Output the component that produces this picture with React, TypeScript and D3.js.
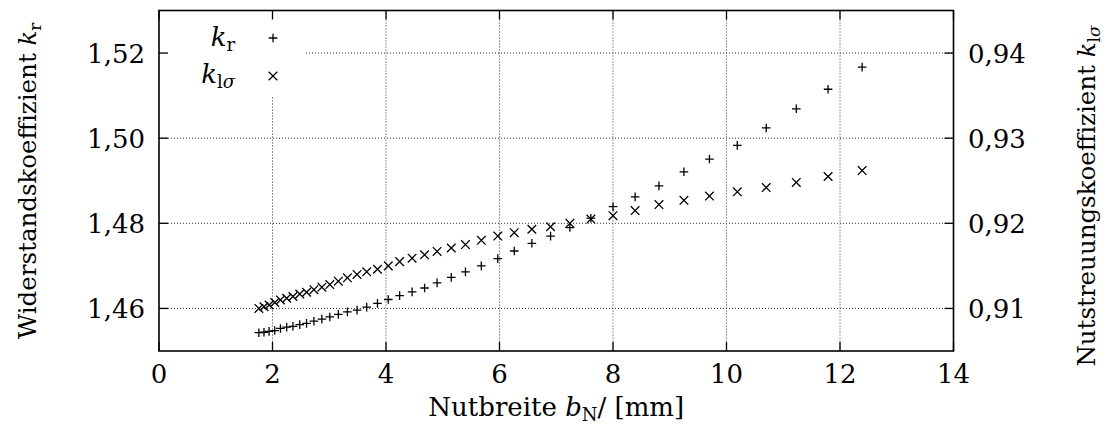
import React from 'react';
import * as d3 from 'd3';

// Nutbreite b_N in mm
const nutbreite = [
  1.76, 1.85, 1.94, 2.04, 2.14, 2.25, 2.36, 2.48, 2.60, 2.73, 2.87, 3.01, 3.16, 3.32, 3.49, 3.66, 3.85,
  4.04, 4.24, 4.46, 4.68, 4.90, 5.15, 5.40, 5.68, 5.97, 6.26, 6.57, 6.90, 7.24, 7.61, 8.00,
  8.39, 8.81, 9.25, 9.70, 10.19, 10.70, 11.23, 11.79, 12.39,
];
// Widerstandskoeffizient k_r (left axis)
const kr = [
  1.4543, 1.4544, 1.4546, 1.4548, 1.4553, 1.4556, 1.4558, 1.4562, 1.4565, 1.4570, 1.4575, 1.4580, 1.4586, 1.4592, 1.4596, 1.4603, 1.4612,
  1.4621, 1.4630, 1.4639, 1.4648, 1.4660, 1.4673, 1.4686, 1.4700, 1.4717, 1.4735, 1.4753, 1.4770, 1.4790, 1.4812, 1.4839,
  1.4862, 1.4888, 1.4921, 1.4951, 1.4983, 1.5024, 1.5069, 1.5115, 1.5167,
];
// Nutstreuungskoeffizient k_lsigma (right axis)
const klsigma = [
  0.9100, 0.9102, 0.9104, 0.9107, 0.9110, 0.9112, 0.9114, 0.9117, 0.9119, 0.9122, 0.9125, 0.9128, 0.9132, 0.9136, 0.9140, 0.9143, 0.9146,
  0.9150, 0.9155, 0.9159, 0.9163, 0.9167, 0.9171, 0.9175, 0.9180, 0.9185, 0.9189, 0.9193, 0.9196, 0.9200, 0.9205, 0.9209,
  0.9215, 0.9222, 0.9227, 0.9232, 0.9237, 0.9242, 0.9248, 0.9255, 0.9262,
];

const xTicks = [0, 2, 4, 6, 8, 10, 12, 14];
const xGrid = [2, 4, 6, 8, 10, 12];
const yLeftTicks = [1.46, 1.48, 1.5, 1.52];
const yRightTicks = [0.91, 0.92, 0.93, 0.94];

const W = 1107;
const H = 433;
const L = 159, R = 953.5, T = 10.5, B = 351;
const FONT = "'DejaVu Serif', 'Liberation Serif', 'Times New Roman', serif";
const FS = 26;
const FSY = 24.5;
const SUB = 18;

const fmt = (v: number, d: number) => v.toFixed(d).replace('.', ',');

export default function App() {
  const x = d3.scaleLinear().domain([0, 14]).range([L, R]);
  const yL = d3.scaleLinear().domain([1.45, 1.53]).range([B, T]);
  const yR = d3.scaleLinear().domain([0.905, 0.945]).range([B, T]);
  const tick = 9;
  const m = 4.3;
  const plus = (cx: number, cy: number, k: string) => (
    <path key={k} d={`M${cx - m},${cy}H${cx + m}M${cx},${cy - m}V${cy + m}`} stroke="#000" strokeWidth={1.3} fill="none" />
  );
  const cross = (cx: number, cy: number, k: string) => (
    <path key={k} d={`M${cx - m},${cy - m}L${cx + m},${cy + m}M${cx - m},${cy + m}L${cx + m},${cy - m}`} stroke="#000" strokeWidth={1.3} fill="none" />
  );
  const legX1 = 305, legY1 = 97;
  return (
    <svg width={W} height={H} style={{ position: 'absolute', left: 0, top: 0, background: '#fff', fontFamily: FONT }}>
      <rect x={0} y={0} width={W} height={H} fill="#fff" />
      {/* grid */}
      <g stroke="#333" strokeWidth={1} strokeDasharray="1,2" fill="none">
        {xGrid.map((v) => (
          <line key={'gx' + v} x1={x(v)} x2={x(v)} y1={T} y2={B} />
        ))}
        {yLeftTicks.map((v) => (
          <line key={'gy' + v} x1={L} x2={R} y1={yL(v)} y2={yL(v)} />
        ))}
      </g>
      {/* legend background */}
      <rect x={L + 1} y={T + 1} width={legX1 - L - 1} height={legY1 - T - 1} fill="#fff" />
      {/* ticks */}
      <g stroke="#000" strokeWidth={1.3}>
        {xTicks.map((v) => (
          <g key={'tx' + v}>
            <line x1={x(v)} x2={x(v)} y1={B} y2={B - tick} />
            <line x1={x(v)} x2={x(v)} y1={T} y2={T + tick} />
          </g>
        ))}
        {yLeftTicks.map((v) => (
          <line key={'tyl' + v} x1={L} x2={L + tick} y1={yL(v)} y2={yL(v)} />
        ))}
        {yRightTicks.map((v) => (
          <line key={'tyr' + v} x1={R} x2={R - tick} y1={yR(v)} y2={yR(v)} />
        ))}
      </g>
      {/* data */}
      <g>
        {nutbreite.map((v, i) => plus(x(v), yL(kr[i]), 'p' + i))}
        {nutbreite.map((v, i) => cross(x(v), yR(klsigma[i]), 'c' + i))}
      </g>
      {/* frame */}
      <rect x={L} y={T} width={R - L} height={B - T} fill="none" stroke="#000" strokeWidth={1.6} />
      {/* tick labels */}
      <g fontSize={FS} fill="#000" style={{ fontFamily: FONT }}>
        {xTicks.map((v) => (
          <text key={'lx' + v} x={x(v)} y={383} textAnchor="middle">{v}</text>
        ))}
        {yLeftTicks.map((v) => (
          <text key={'lyl' + v} x={145} y={yL(v) + 10} textAnchor="end">{fmt(v, 2)}</text>
        ))}
        {yRightTicks.map((v) => (
          <text key={'lyr' + v} x={968} y={yR(v) + 10} textAnchor="start">{fmt(v, 2)}</text>
        ))}
      </g>
      {/* legend */}
      <g fontSize={FS} fill="#000" style={{ fontFamily: FONT }}>
        <text x={235} y={46} textAnchor="end">
          <tspan fontStyle="italic">k</tspan>
          <tspan fontSize={SUB} dy={5}>r</tspan>
        </text>
        {plus(273, 38, 'lp')}
        <text x={235} y={83} textAnchor="end">
          <tspan fontStyle="italic">k</tspan>
          <tspan fontSize={SUB} dy={5}>l</tspan>
          <tspan fontSize={SUB} fontStyle="italic">σ</tspan>
        </text>
        {cross(273, 76, 'lc')}
      </g>
      {/* axis titles */}
      <g fontSize={FS} fill="#000" style={{ fontFamily: FONT }}>
        <text x={(L + R) / 2} y={416} textAnchor="middle">
          <tspan>Nutbreite </tspan>
          <tspan fontStyle="italic">b</tspan>
          <tspan fontSize={SUB} dy={5}>N</tspan>
          <tspan dy={-5}>/ [mm]</tspan>
        </text>
        <text transform={`translate(36,${(T + B) / 2}) rotate(-90)`} textAnchor="middle" fontSize={FSY}>
          <tspan>Widerstandskoeffizient </tspan>
          <tspan fontStyle="italic">k</tspan>
          <tspan fontSize={17} dy={5}>r</tspan>
        </text>
        <text transform={`translate(1095,196) rotate(-90)`} textAnchor="middle" fontSize={FSY}>
          <tspan>Nutstreuungskoeffizient </tspan>
          <tspan fontStyle="italic">k</tspan>
          <tspan fontSize={17} dy={5}>l</tspan>
          <tspan fontSize={17} fontStyle="italic">σ</tspan>
        </text>
      </g>
    </svg>
  );
}
